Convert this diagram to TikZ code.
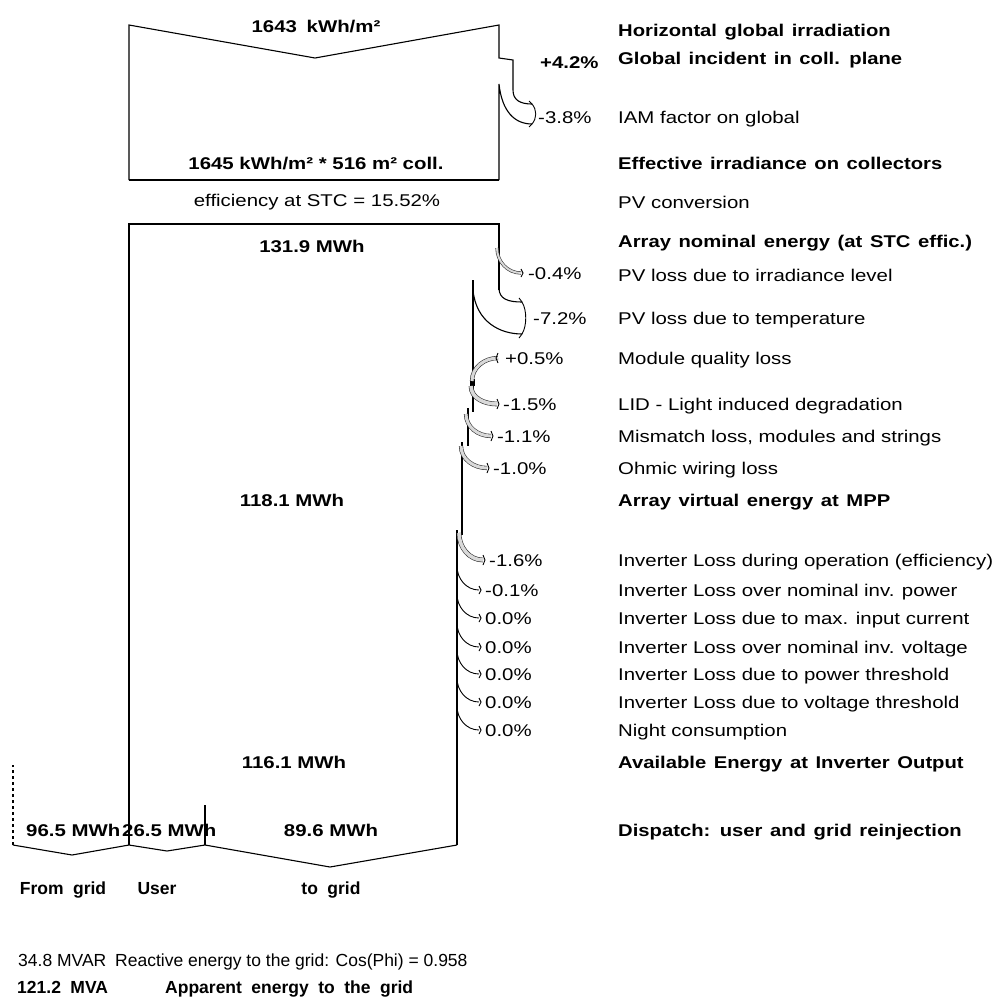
\documentclass[tikz,border=0pt]{standalone}
\usepackage{fontspec}
\setmainfont{Liberation Sans}[FakeStretch=1.2]
\newfontface\lblb{Liberation Sans Bold}[FakeStretch=1.2]
\newfontface\lblbw{Liberation Sans Bold}[FakeStretch=1.19,WordSpace=1.35]
\newfontface\plainr{Liberation Sans}
\newfontface\plainbw{Liberation Sans Bold}[WordSpace=1.95]
\usetikzlibrary{calc}
\tikzset{
  txt/.style={inner sep=0pt, text height=12.2pt, text depth=0pt, font=\fontsize{17}{20}\selectfont},
  lab/.style={txt, anchor=west},
  labb/.style={txt, anchor=west, font={\lblbw\fontsize{17}{20}\selectfont}},
  val/.style={txt, font={\lblb\fontsize{17}{20}\selectfont}},
  valw/.style={txt, font={\plainbw\fontsize{17.5}{20}\selectfont}},
  pct/.style={txt, anchor=west},
  pctb/.style={txt, anchor=west, font={\lblb\fontsize{17}{20}\selectfont}},
  edge/.style={line width=1.1pt},
  band/.style={draw=black!80, line width=0.6pt, double=black!15, double distance=#1},
  thinarr/.style={line width=0.9pt},
  tipmark/.style={line width=0.9pt}
}
\newcommand\tipat[2]{\draw[tipmark] ([yshift=#2pt]#1) -- ([xshift=2pt]#1) -- ([yshift=-#2pt]#1);}
\begin{document}
\begin{tikzpicture}[x=1pt,y=-1pt]
\path[use as bounding box] (0,0) rectangle (1001,997);

% ---------- top box (irradiation) ----------
\coordinate (e38t) at (532,104);
\coordinate (e38b) at (532,124);
\draw[edge] (129,180) -- (129,25) -- (315,58) -- (499,25) -- (499,58) -- (513,60) -- (513,90)
  .. controls (513,100) and (520,104) .. (e38t);
\draw[edge] (499,180) -- (499,84) .. controls (502,112) and (515,124) .. (e38b);
\draw[edge] (129,180) -- (499,180);
\draw[thinarr] (e38t) .. controls +(5,6) and +(5,-6) .. (e38b);
\draw[thinarr] (e38t) -- +(-3,-3);
\draw[thinarr] (e38b) -- +(-3,3);

\node[val] (v1643) at (316,26) {1643\hspace{4pt} kWh/m²};
\node[val] (v1645) at (316,163) {1645 kWh/m² * 516 m² coll.};
\node[txt] (eff) at (317,200) {efficiency at STC = 15.52\%};

% ---------- main box ----------
\coordinate (e72t) at (522,302);
\coordinate (e72b) at (522,334);
\draw[edge] (499,290) -- (499,224) -- (129,224) -- (129,845);
\draw[edge] (499,288) .. controls (499,299) and (508,302) .. (e72t);
\draw[edge] (473,280) -- (473,412);
\draw[edge] (473,290) .. controls (476,322) and (500,334) .. (e72b);
\draw[thinarr] (e72t) .. controls +(5,8) and +(5,-8) .. (e72b);
\draw[thinarr] (e72t) -- +(-3,-4);
\draw[thinarr] (e72b) -- +(-3,4);
\draw[edge] (468,408) -- (468,446);
\draw[edge] (462,442) -- (462,535);
\draw[edge] (457,530) -- (457,845);
\fill (470,379) rectangle (475,386);

% bottom dispatch
\draw[edge] (457,845) -- (330,867) -- (205,845) -- (167,851) -- (129,845) -- (72,855) -- (13,845);
\draw[edge, dashed] (13,845) -- (13,765);
\draw[edge] (205,805) -- (205,845);

\node[val] (v1319) at (312,246) {131.9 MWh};
\node[val] (v1181) at (292,500) {118.1 MWh};
\node[val] (v1161) at (294,762) {116.1 MWh};
\node[val, anchor=west] (v965) at (26,830) {96.5 MWh};
\node[val, anchor=west] (v265) at (122,830) {26.5 MWh};
\node[val] (v896) at (331,830) {89.6 MWh};
\node[valw] (fg) at (63,888) {From grid};
\node[valw] (us) at (157,888) {User};
\node[valw] (tg) at (331,888) {to grid};

% ---------- percentage labels ----------
\node[pctb] (p42) at (540,62) {+4.2\%};
\node[pct] (p38) at (538,117) {-3.8\%};
\node[pct] (p04) at (528,273) {-0.4\%};
\node[pct] (p72) at (533,318) {-7.2\%};
\node[pct] (p05) at (505,358) {+0.5\%};
\node[pct] (p15) at (503,404) {-1.5\%};
\node[pct] (p11) at (497,436) {-1.1\%};
\node[pct] (p10) at (493,468) {-1.0\%};
\node[pct] (p16) at (489,560) {-1.6\%};
\node[pct] (p01) at (485,590) {-0.1\%};
\node[pct] (p0a) at (485,618) {0.0\%};
\node[pct] (p0b) at (485,647) {0.0\%};
\node[pct] (p0c) at (485,674) {0.0\%};
\node[pct] (p0d) at (485,702) {0.0\%};
\node[pct] (p0e) at (485,730) {0.0\%};

% ---------- small loss / gain arrows ----------
\coordinate (s04) at (497,248);
\coordinate (e04) at ([xshift=-7pt]p04.west);
\draw[band=2pt] (s04) to[out=-90,in=180] (e04);
\tipat{e04}{4}

\coordinate (s05) at ([xshift=-7pt]p05.west);
\coordinate (t05) at (472,381);
\draw[band=3pt] (s05) to[out=180,in=90] (t05);
\draw[tipmark] ([yshift=5pt]s05) -- ([xshift=-2pt]s05) -- ([yshift=-5pt]s05);

\coordinate (s15) at (471,386);
\coordinate (e15) at ([xshift=-6pt]p15.west);
\draw[band=3.5pt] (s15) to[out=-90,in=180] (e15);
\tipat{e15}{5}

\coordinate (s11) at (466,414);
\coordinate (e11) at ([xshift=-6pt]p11.west);
\draw[band=3pt] (s11) to[out=-90,in=180] (e11);
\tipat{e11}{5}

\coordinate (s10) at (461,446);
\coordinate (e10) at ([xshift=-6pt]p10.west);
\draw[band=3pt] (s10) to[out=-90,in=180] (e10);
\tipat{e10}{5}

\coordinate (s16) at (459,533);
\coordinate (e16) at ([xshift=-6pt]p16.west);
\draw[band=3.5pt] (s16) to[out=-90,in=180] (e16);
\tipat{e16}{5}

\coordinate (s01) at (457,566);
\coordinate (e01) at ([xshift=-6pt]p01.west);
\draw[thinarr] (s01) to[out=-90,in=180] (e01);
\tipat{e01}{4}

\foreach \n in {p0a,p0b,p0c,p0d,p0e}{
  \coordinate (e\n) at ([xshift=-6pt]\n.west);
  \coordinate (s\n) at ([yshift=24pt]457,0 |- e\n);
  \draw[thinarr] (s\n) to[out=-90,in=180] (e\n);
  \tipat{e\n}{4}
}

% ---------- right-hand descriptions ----------
\node[labb] (d1) at (618,30) {Horizontal global irradiation};
\node[labb] (d2) at (618,58) {Global incident in coll. plane};
\node[lab] (d3) at (618,117) {IAM factor on global};
\node[labb] (d4) at (618,163) {Effective irradiance on collectors};
\node[lab] (d5) at (618,202) {PV conversion};
\node[labb] (d6) at (618,241) {Array nominal energy (at STC effic.)};
\node[lab] (d7) at (618,275) {PV loss due to irradiance level};
\node[lab] (d8) at (618,318) {PV loss due to temperature};
\node[lab] (d9) at (618,358) {Module quality loss};
\node[lab] (d10) at (618,404) {LID - Light induced degradation};
\node[lab] (d11) at (618,436) {Mismatch loss, modules and strings};
\node[lab] (d12) at (618,468) {Ohmic wiring loss};
\node[labb] (d13) at (618,500) {Array virtual energy at MPP};
\node[lab] (d14) at (618,560) {Inverter Loss during operation (efficiency)};
\node[lab] (d15) at (618,590) {Inverter Loss over nominal inv. power};
\node[lab] (d16) at (618,618) {Inverter Loss due to max. input current};
\node[lab] (d17) at (618,647) {Inverter Loss over nominal inv. voltage};
\node[lab] (d18) at (618,674) {Inverter Loss due to power threshold};
\node[lab] (d19) at (618,702) {Inverter Loss due to voltage threshold};
\node[lab] (d20) at (618,730) {Night consumption};
\node[labb] (d21) at (618,762) {Available Energy at Inverter Output};
\node[labb] (d22) at (618,830) {Dispatch: user and grid reinjection};

% ---------- bottom summary ----------
\node[txt, anchor=west, font={\plainr\fontsize{17.5}{20}\selectfont}] (mvar) at (18,960) {34.8 MVAR};
\node[txt, anchor=west, font={\plainr\fontsize{17.5}{20}\selectfont}] (react) at (115,960) {Reactive energy to the grid: Cos(Phi) = 0.958};
\node[txt, anchor=west, font={\plainbw\fontsize{17.5}{20}\selectfont}] (mva) at (17,987) {121.2 MVA};
\node[txt, anchor=west, font={\plainbw\fontsize{17.5}{20}\selectfont}] (appar) at (165,987) {Apparent energy to the grid};
\end{tikzpicture}
\end{document}
